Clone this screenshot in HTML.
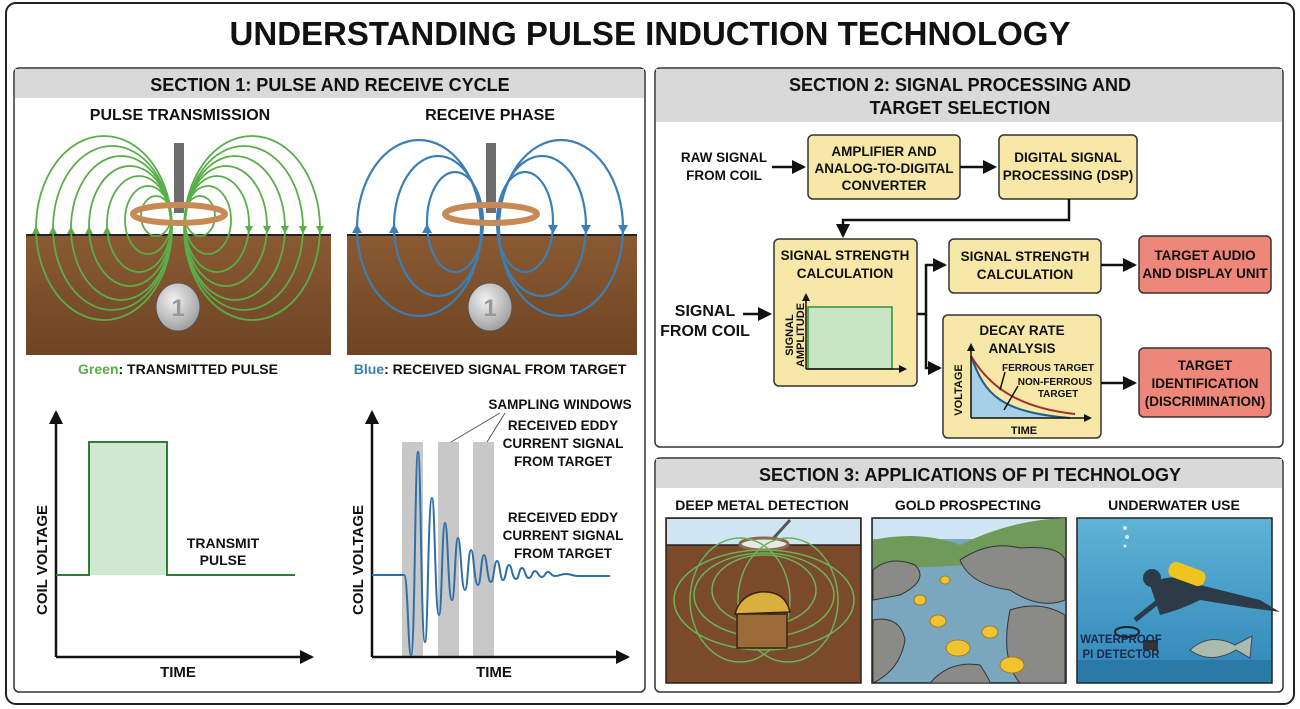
<!DOCTYPE html>
<html><head><meta charset="utf-8"><style>
html,body{margin:0;padding:0;background:#fff;}
svg{display:block;}
text{font-family:"Liberation Sans",sans-serif;font-weight:bold;}
</style></head><body>
<svg width="1300" height="709" viewBox="0 0 1300 709" xmlns="http://www.w3.org/2000/svg">
<defs>
<marker id="ah" markerWidth="8" markerHeight="8" refX="6" refY="4" orient="auto" markerUnits="userSpaceOnUse"><path d="M0,0 L8,4 L0,8 z" fill="#111"/></marker>
<marker id="ahb" markerWidth="14" markerHeight="14" refX="12" refY="7" orient="auto" markerUnits="userSpaceOnUse"><path d="M0,0 L14,7 L0,14 z" fill="#111"/></marker>
<linearGradient id="soil" x1="0" y1="0" x2="0" y2="1"><stop offset="0" stop-color="#8a5a32"/><stop offset="1" stop-color="#6e4424"/></linearGradient>
<linearGradient id="water" x1="0" y1="0" x2="0" y2="1"><stop offset="0" stop-color="#5fb3d6"/><stop offset="1" stop-color="#2f86b8"/></linearGradient>
<radialGradient id="coin" cx="0.4" cy="0.35" r="0.7"><stop offset="0" stop-color="#f2f2f2"/><stop offset="1" stop-color="#9a9a9a"/></radialGradient>
</defs>
<rect x="0" y="0" width="1300" height="709" fill="#fff"/>
<rect x="6" y="3" width="1288" height="701" rx="10" fill="none" stroke="#222" stroke-width="2"/>
<text x="650" y="45" font-size="33" text-anchor="middle" fill="#111">UNDERSTANDING PULSE INDUCTION TECHNOLOGY</text>

<!-- SECTION 1 -->
<rect x="14" y="68" width="631" height="624" rx="5" fill="#fff" stroke="#333" stroke-width="1.5"/>
<rect x="15" y="69" width="629" height="29" fill="#d9d9d9"/>
<text x="330" y="91" font-size="18" text-anchor="middle" fill="#111">SECTION 1: PULSE AND RECEIVE CYCLE</text>
<text x="180" y="120" font-size="16" text-anchor="middle" fill="#111">PULSE TRANSMISSION</text>
<text x="490" y="120" font-size="16" text-anchor="middle" fill="#111">RECEIVE PHASE</text>

<rect x="26" y="235" width="305" height="120" fill="url(#soil)"/>
<line x1="26" y1="235" x2="331" y2="235" stroke="#222" stroke-width="2"/>
<rect x="347" y="235" width="290" height="120" fill="url(#soil)"/>
<line x1="347" y1="235" x2="637" y2="235" stroke="#222" stroke-width="2"/>

<g fill="none" stroke="#5aae4a" stroke-width="1.8">
<ellipse cx="104" cy="228" rx="68" ry="92"/><ellipse cx="112" cy="228" rx="59" ry="82"/><ellipse cx="121" cy="228" rx="50" ry="72"/><ellipse cx="130" cy="226" rx="41" ry="60"/><ellipse cx="139" cy="224" rx="32" ry="48"/><ellipse cx="148" cy="220" rx="23" ry="34"/><ellipse cx="156" cy="216" rx="15" ry="20"/>
<ellipse cx="252" cy="228" rx="68" ry="92"/><ellipse cx="244" cy="228" rx="59" ry="82"/><ellipse cx="235" cy="228" rx="50" ry="72"/><ellipse cx="226" cy="226" rx="41" ry="60"/><ellipse cx="217" cy="224" rx="32" ry="48"/><ellipse cx="208" cy="220" rx="23" ry="34"/><ellipse cx="200" cy="216" rx="15" ry="20"/>
</g>
<g fill="#5aae4a">
<path d="M36,226 l-4,8 h8z"/><path d="M53,226 l-4,8 h8z"/><path d="M71,226 l-4,8 h8z"/><path d="M89,226 l-4,8 h8z"/><path d="M107,226 l-4,8 h8z"/>
<path d="M320,234 l-4,-8 h8z"/><path d="M303,234 l-4,-8 h8z"/><path d="M285,234 l-4,-8 h8z"/><path d="M267,234 l-4,-8 h8z"/><path d="M249,234 l-4,-8 h8z"/>
</g>
<g fill="none" stroke="#3a7fb5" stroke-width="2.2">
<ellipse cx="419" cy="228" rx="62" ry="88"/><ellipse cx="438" cy="226" rx="44" ry="70"/><ellipse cx="455" cy="222" rx="28" ry="50"/>
<ellipse cx="561" cy="228" rx="62" ry="88"/><ellipse cx="542" cy="226" rx="44" ry="70"/><ellipse cx="525" cy="222" rx="28" ry="50"/>
</g>
<g fill="#3a7fb5">
<path d="M357,224 l-5,9 h10z"/><path d="M394,224 l-5,9 h10z"/><path d="M427,224 l-5,9 h10z"/>
<path d="M623,234 l-5,-9 h10z"/><path d="M586,234 l-5,-9 h10z"/><path d="M553,234 l-5,-9 h10z"/>
</g>
<!-- coils + poles -->
<rect x="174" y="143" width="10" height="70" fill="#6d6d6d"/>
<ellipse cx="179" cy="214" rx="46" ry="9" fill="none" stroke="#c88a55" stroke-width="6"/>
<rect x="486" y="143" width="10" height="70" fill="#6d6d6d"/>
<ellipse cx="491" cy="214" rx="46" ry="9" fill="none" stroke="#c88a55" stroke-width="6"/>
<ellipse cx="178" cy="307" rx="22" ry="24" fill="url(#coin)" stroke="#555"/>
<text x="178" y="316" font-size="24" text-anchor="middle" fill="#999" font-family="Liberation Serif">1</text>
<ellipse cx="490" cy="307" rx="22" ry="24" fill="url(#coin)" stroke="#555"/>
<text x="490" y="316" font-size="24" text-anchor="middle" fill="#999" font-family="Liberation Serif">1</text>
<text x="178" y="374" font-size="14" text-anchor="middle" fill="#111"><tspan fill="#5aae4a">Green</tspan>: TRANSMITTED PULSE</text>
<text x="490" y="374" font-size="14" text-anchor="middle" fill="#111"><tspan fill="#3a7fb5">Blue</tspan>: RECEIVED SIGNAL FROM TARGET</text>

<!-- left graph -->
<line x1="56" y1="657" x2="56" y2="412" stroke="#111" stroke-width="2.5" marker-end="url(#ahb)"/>
<line x1="56" y1="657" x2="312" y2="657" stroke="#111" stroke-width="2.5" marker-end="url(#ahb)"/>
<rect x="89" y="442" width="78" height="133" fill="#cfe8cf"/>
<path d="M56,575 H89 V442 H167 V575 H295" fill="none" stroke="#2e7d3e" stroke-width="2"/>
<text x="223" y="548" font-size="14" text-anchor="middle" fill="#111">TRANSMIT</text>
<text x="223" y="565" font-size="14" text-anchor="middle" fill="#111">PULSE</text>
<text transform="translate(47,560) rotate(-90)" font-size="15" text-anchor="middle" fill="#111">COIL VOLTAGE</text>
<text x="178" y="677" font-size="15" text-anchor="middle" fill="#111">TIME</text>

<!-- right graph -->
<rect x="402" y="442" width="21" height="215" fill="#c8c8c8"/>
<rect x="438" y="442" width="21" height="215" fill="#c8c8c8"/>
<rect x="473" y="442" width="21" height="215" fill="#c8c8c8"/>
<line x1="372" y1="657" x2="372" y2="412" stroke="#111" stroke-width="2.5" marker-end="url(#ahb)"/>
<line x1="372" y1="657" x2="628" y2="657" stroke="#111" stroke-width="2.5" marker-end="url(#ahb)"/>
<path d="M372,575 H404 C408,575 408,655 411,655 C415,655 415,452 418,452 C421,452 421,642 425,642 C428,642 428,498 432,498 C435,498 435,615 439,615 C442,615 442,523 445,523 C448,523 448,600 452,600 C455,600 455,538 458,538 C461,538 461,590 465,590 C468,590 468,550 471,550 C474,550 474,585 478,585 C481,585 481,555 484,555 C487,555 487,582 491,582 C494,582 494,561 497,561 C500,561 500,580 503,580 C506,580 506,565 509,565 C512,565 512,579 516,579 C519,579 519,568 522,568 C525,568 525,578 529,578 C532,578 532,571 535,571 C538,571 538,577 542,577 C545,577 545,572 548,572 C551,572 551,576 555,576 C560,576 560,574 566,574 C572,574 572,576 578,576 H610" fill="none" stroke="#2f6fa8" stroke-width="2"/>
<line x1="451" y1="442" x2="500" y2="413" stroke="#555" stroke-width="1"/>
<line x1="487" y1="442" x2="505" y2="413" stroke="#555" stroke-width="1"/>
<text x="560" y="409" font-size="13.5" text-anchor="middle" fill="#111">SAMPLING WINDOWS</text>
<text x="563" y="430" font-size="13.5" text-anchor="middle" fill="#111">RECEIVED EDDY</text>
<text x="563" y="448" font-size="13.5" text-anchor="middle" fill="#111">CURRENT SIGNAL</text>
<text x="563" y="466" font-size="13.5" text-anchor="middle" fill="#111">FROM TARGET</text>
<text x="563" y="522" font-size="13.5" text-anchor="middle" fill="#111">RECEIVED EDDY</text>
<text x="563" y="540" font-size="13.5" text-anchor="middle" fill="#111">CURRENT SIGNAL</text>
<text x="563" y="558" font-size="13.5" text-anchor="middle" fill="#111">FROM TARGET</text>
<text transform="translate(363,560) rotate(-90)" font-size="15" text-anchor="middle" fill="#111">COIL VOLTAGE</text>
<text x="494" y="677" font-size="15" text-anchor="middle" fill="#111">TIME</text>

<!-- SECTION 2 -->
<rect x="655" y="68" width="628" height="379" rx="5" fill="#fff" stroke="#333" stroke-width="1.5"/>
<rect x="656" y="69" width="626" height="53" fill="#d9d9d9"/>
<text x="960" y="91" font-size="18" text-anchor="middle" fill="#111">SECTION 2: SIGNAL PROCESSING AND</text>
<text x="960" y="114" font-size="18" text-anchor="middle" fill="#111">TARGET SELECTION</text>

<g stroke="#333" stroke-width="1.5">
<rect x="808" y="135" width="152" height="64" rx="5" fill="#f8e8a8"/>
<rect x="999" y="135" width="138" height="64" rx="5" fill="#f8e8a8"/>
<rect x="774" y="239" width="143" height="147" rx="5" fill="#f8e8a8"/>
<rect x="949" y="239" width="152" height="54" rx="5" fill="#f8e8a8"/>
<rect x="943" y="315" width="158" height="123" rx="5" fill="#f8e8a8"/>
<rect x="1139" y="236" width="132" height="57" rx="5" fill="#ef867a"/>
<rect x="1139" y="348" width="132" height="69" rx="5" fill="#ef867a"/>
</g>
<g font-size="13.5" text-anchor="middle" fill="#111">
<text x="724" y="162">RAW SIGNAL</text><text x="724" y="180">FROM COIL</text>
<text x="884" y="156">AMPLIFIER AND</text><text x="884" y="173">ANALOG-TO-DIGITAL</text><text x="884" y="190">CONVERTER</text>
<text x="1068" y="162">DIGITAL SIGNAL</text><text x="1068" y="180">PROCESSING (DSP)</text>
<text x="845" y="260">SIGNAL STRENGTH</text><text x="845" y="278">CALCULATION</text>
<text x="1025" y="261">SIGNAL STRENGTH</text><text x="1025" y="279">CALCULATION</text>
<text x="1205" y="260">TARGET AUDIO</text><text x="1205" y="278">AND DISPLAY UNIT</text>
<text x="1205" y="370">TARGET</text><text x="1205" y="388">IDENTIFICATION</text><text x="1205" y="406">(DISCRIMINATION)</text>
<text x="1022" y="335">DECAY RATE</text><text x="1022" y="353">ANALYSIS</text>
<text x="1024" y="434" font-size="11">TIME</text>
</g>
<text x="705" y="316" font-size="16" text-anchor="middle" fill="#111">SIGNAL</text>
<text x="705" y="336" font-size="16" text-anchor="middle" fill="#111">FROM COIL</text>
<g stroke="#111" stroke-width="2.5" fill="none">
<line x1="772" y1="167" x2="804" y2="167" marker-end="url(#ahb)"/>
<line x1="960" y1="167" x2="995" y2="167" marker-end="url(#ahb)"/>
<path d="M1069,199 V220 H843 V236" marker-end="url(#ahb)"/>
<line x1="743" y1="314" x2="770" y2="314" marker-end="url(#ahb)"/>
<path d="M917,314 H926 V265 H945" marker-end="url(#ahb)"/>
<path d="M926,314 V368 H940" marker-end="url(#ahb)"/>
<line x1="1101" y1="265" x2="1135" y2="265" marker-end="url(#ahb)"/>
<line x1="1101" y1="383" x2="1135" y2="383" marker-end="url(#ahb)"/>
</g>
<rect x="808" y="307" width="84" height="62" fill="#c9e6c4" stroke="#2e8b3e" stroke-width="1.5"/>
<g stroke="#111" stroke-width="1.5" fill="none">
<line x1="806" y1="369" x2="806" y2="295" marker-end="url(#ah)"/>
<line x1="806" y1="369" x2="905" y2="369" marker-end="url(#ah)"/>
</g>
<text transform="translate(793,335) rotate(-90)" font-size="11" text-anchor="middle" fill="#111">SIGNAL</text>
<text transform="translate(804,335) rotate(-90)" font-size="11" text-anchor="middle" fill="#111">AMPLITUDE</text>
<path d="M971,356 C985,395 1000,412 1070,418 L971,418 Z" fill="#a8cfe8"/>
<path d="M971,356 C985,395 1000,412 1070,418" fill="none" stroke="#1f5f8a" stroke-width="2"/>
<path d="M971,356 C990,388 1020,408 1075,414" fill="none" stroke="#a0302a" stroke-width="2"/>
<g stroke="#111" stroke-width="1.5" fill="none">
<line x1="971" y1="418" x2="971" y2="345" marker-end="url(#ah)"/>
<line x1="971" y1="418" x2="1090" y2="418" marker-end="url(#ah)"/>
<line x1="1000" y1="390" x2="1005" y2="372"/>
<line x1="1004" y1="410" x2="1018" y2="386"/>
</g>
<text transform="translate(962,390) rotate(-90)" font-size="11" text-anchor="middle" fill="#111">VOLTAGE</text>
<text x="1048" y="371" font-size="10" text-anchor="middle" fill="#111">FERROUS TARGET</text>
<text x="1055" y="385" font-size="10" text-anchor="middle" fill="#111">NON-FERROUS</text>
<text x="1058" y="397" font-size="10" text-anchor="middle" fill="#111">TARGET</text>

<!-- SECTION 3 -->
<rect x="655" y="458" width="628" height="234" rx="5" fill="#fff" stroke="#333" stroke-width="1.5"/>
<rect x="656" y="459" width="626" height="29" fill="#d9d9d9"/>
<text x="970" y="481" font-size="18" text-anchor="middle" fill="#111">SECTION 3: APPLICATIONS OF PI TECHNOLOGY</text>
<g font-size="14" text-anchor="middle" fill="#111">
<text x="762" y="510">DEEP METAL DETECTION</text>
<text x="968" y="510">GOLD PROSPECTING</text>
<text x="1174" y="510">UNDERWATER USE</text>
</g>
<rect x="666" y="518" width="195" height="165" fill="#7a4a2a" stroke="#222" stroke-width="1.5"/>
<rect x="667" y="519" width="193" height="26" fill="#cfe6f2"/>
<line x1="666" y1="545" x2="861" y2="545" stroke="#222" stroke-width="1.5"/>
<line x1="770" y1="542" x2="790" y2="520" stroke="#555" stroke-width="3"/>
<ellipse cx="764" cy="544" rx="24" ry="6" fill="#e8e8e8" stroke="#8a6a48" stroke-width="3"/>
<g fill="none" stroke="#6db25a" stroke-width="1.5">
<ellipse cx="764" cy="600" rx="90" ry="50"/><ellipse cx="764" cy="595" rx="70" ry="42"/><ellipse cx="764" cy="590" rx="52" ry="35"/>
<ellipse cx="740" cy="600" rx="50" ry="62"/><ellipse cx="788" cy="600" rx="50" ry="62"/>
</g>
<rect x="737" y="614" width="50" height="34" fill="#9a6a38" stroke="#3a2410" stroke-width="1.5"/>
<path d="M735,614 Q740,595 760,592 Q785,590 790,612 Z" fill="#d8b040" stroke="#3a2410" stroke-width="1.5"/>
<rect x="872" y="518" width="194" height="165" fill="#7aa7bd" stroke="#222" stroke-width="1.5"/>
<rect x="873" y="519" width="192" height="20" fill="#cfe6f2"/>
<path d="M873,540 Q920,530 960,545 Q1010,520 1065,518 L1065,560 L873,570 Z" fill="#6f9a5a"/>
<path d="M873,570 Q890,555 915,565 Q930,580 900,595 L873,600 Z M873,620 Q900,615 905,640 Q900,670 873,683 Z M960,560 Q990,540 1020,548 Q1060,545 1065,560 L1065,600 Q1040,610 1010,590 Q970,585 960,560 Z M1010,610 Q1040,600 1065,615 L1065,683 L1020,683 Q1000,660 1010,610 Z M930,683 Q950,660 980,665 Q990,680 990,683 Z" fill="#8a8a86" stroke="#333" stroke-width="1"/>
<g fill="#f1c232" stroke="#a07010" stroke-width="0.8">
<ellipse cx="938" cy="621" rx="8" ry="6"/><ellipse cx="958" cy="648" rx="12" ry="8"/><ellipse cx="990" cy="632" rx="8" ry="6"/><ellipse cx="1012" cy="665" rx="12" ry="8"/><ellipse cx="945" cy="580" rx="5" ry="4"/><ellipse cx="920" cy="600" rx="6" ry="5"/>
</g>
<rect x="1077" y="518" width="195" height="165" fill="url(#water)" stroke="#222" stroke-width="1.5"/>
<rect x="1078" y="660" width="193" height="22" fill="#2a7aa8"/>
<path d="M1150,585 Q1170,570 1200,585 L1260,600 L1280,612 L1250,608 L1200,600 Q1180,610 1160,615 Z" fill="#2d3a48"/>
<circle cx="1152" cy="578" r="9" fill="#2d3a48"/>
<rect x="1168" y="566" width="38" height="16" rx="7" fill="#f0c420" transform="rotate(20 1187 574)"/>
<line x1="1160" y1="600" x2="1135" y2="620" stroke="#2d3a48" stroke-width="5"/>
<ellipse cx="1127" cy="632" rx="12" ry="5" fill="none" stroke="#222" stroke-width="2"/>
<rect x="1143" y="640" width="15" height="10" fill="#333"/>
<text x="1121" y="643" font-size="11.5" text-anchor="middle" fill="#1a2a4a">WATERPROOF</text>
<text x="1121" y="658" font-size="11.5" text-anchor="middle" fill="#1a2a4a">PI DETECTOR</text>
<path d="M1190,650 Q1210,632 1235,645 L1252,636 L1250,658 L1236,650 Q1210,665 1190,650 Z" fill="#a9bcae" stroke="#445"/>
<g fill="#d8eef8"><circle cx="1125" cy="528" r="2"/><circle cx="1127" cy="537" r="2"/><circle cx="1125" cy="546" r="1.5"/></g>
</svg>
</body></html>
